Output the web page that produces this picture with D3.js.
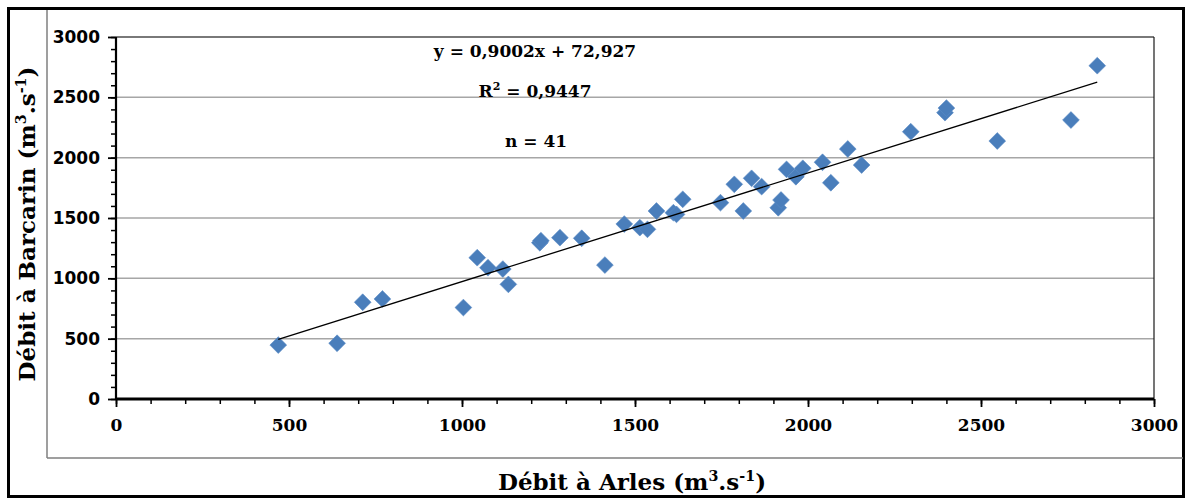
<!DOCTYPE html>
<html>
<head>
<meta charset="utf-8">
<script src="https://cdn.jsdelivr.net/npm/d3@7/dist/d3.min.js"></script>
<style>
  html, body { margin: 0; padding: 0; background: #fff; }
  svg { display: block; }
</style>
</head>
<body>
<svg id="chart" width="1188" height="499"></svg>
<script>
// ---- data ----
const arlesFlow = [469, 639, 713, 770, 1004, 1044, 1075, 1118, 1134, 1225, 1228, 1283, 1346, 1413, 1469, 1514, 1536, 1562, 1611, 1620, 1638, 1747, 1787, 1813, 1837, 1866, 1914, 1922, 1938, 1965, 1985, 2042, 2066, 2115, 2155, 2297, 2396, 2400, 2547, 2760, 2836];
const barcarinFlow = [447, 462, 802, 829, 758, 1171, 1088, 1077, 950, 1295, 1312, 1337, 1332, 1110, 1450, 1420, 1406, 1558, 1544, 1530, 1655, 1627, 1779, 1558, 1829, 1760, 1585, 1649, 1903, 1842, 1912, 1962, 1792, 2072, 1939, 2215, 2373, 2411, 2138, 2312, 2762];
const xTicks = [0, 500, 1000, 1500, 2000, 2500, 3000];
const yTicks = [0, 500, 1000, 1500, 2000, 2500, 3000];
const trendSlope = 0.9002;
const trendIntercept = 72.927;
const equationLabel = "y = 0,9002x + 72,927";
const r2Value = "0,9447";
const nLabel = "n = 41";

// ---- layout ----
const svg = d3.select("#chart");
const plot = { left: 116, right: 1154, top: 37, bottom: 399 };
const x = d3.scaleLinear().domain([0, 3000]).range([plot.left, plot.right]);
const y = d3.scaleLinear().domain([0, 3000]).range([plot.bottom, plot.top]);

const serif = "'DejaVu Serif', serif";
const sans = "'DejaVu Sans', sans-serif";

// outer frame
svg.append("rect").attr("x", 8.5).attr("y", 8.5).attr("width", 1175).attr("height", 488)
  .attr("fill", "#fff").attr("stroke", "#000").attr("stroke-width", 3);
// inner chart-area lines
svg.append("line").attr("x1", 47).attr("x2", 47).attr("y1", 10).attr("y2", 458)
  .attr("stroke", "#7f7f7f").attr("stroke-width", 1.5);
svg.append("line").attr("x1", 47).attr("x2", 1183).attr("y1", 458).attr("y2", 458)
  .attr("stroke", "#7f7f7f").attr("stroke-width", 1.5);

// gridlines
svg.append("g").selectAll("line").data(yTicks.filter(d => d > 0 && d < 3000)).join("line")
  .attr("x1", plot.left).attr("x2", plot.right)
  .attr("y1", d => y(d)).attr("y2", d => y(d))
  .attr("stroke", "#a6a6a6").attr("stroke-width", 1.5);

// plot border top & right
svg.append("line").attr("x1", plot.left).attr("x2", plot.right).attr("y1", y(3000)).attr("y2", y(3000))
  .attr("stroke", "#4d4d4d").attr("stroke-width", 1.5);
svg.append("line").attr("x1", x(3000)).attr("x2", x(3000)).attr("y1", plot.top).attr("y2", plot.bottom)
  .attr("stroke", "#1a1a1a").attr("stroke-width", 1.2);

// minor ticks
const minorVals = d3.range(0, 3001, 100);
const yAxisMinor = d3.axisLeft(y).tickValues(minorVals).tickSize(5).tickFormat("");
const xAxisMinor = d3.axisBottom(x).tickValues(minorVals).tickSize(5).tickFormat("");
const gyMinor = svg.append("g").attr("transform", `translate(${plot.left},0)`).call(yAxisMinor);
const gxMinor = svg.append("g").attr("transform", `translate(0,${plot.bottom})`).call(xAxisMinor);
[gyMinor, gxMinor].forEach(g => {
  g.select(".domain").remove();
  g.selectAll("line").attr("stroke", "#000").attr("stroke-width", 1.5);
});

// y axis
const yAxis = d3.axisLeft(y).tickValues(yTicks).tickSize(8).tickPadding(8).tickFormat(d3.format("d"));
const gy = svg.append("g").attr("transform", `translate(${plot.left},0)`).call(yAxis);
gy.select(".domain").attr("stroke", "#000").attr("stroke-width", 2.2).attr("d", `M0,${plot.top}V${plot.bottom}`);
gy.selectAll("line").attr("stroke", "#000").attr("stroke-width", 1.8);
gy.selectAll("text").attr("font-family", sans).attr("font-weight", "bold").attr("font-size", 17).attr("fill", "#000");

// x axis
const xAxis = d3.axisBottom(x).tickValues(xTicks).tickSize(8).tickPadding(12).tickFormat(d3.format("d"));
const gx = svg.append("g").attr("transform", `translate(0,${plot.bottom})`).call(xAxis);
gx.select(".domain").attr("stroke", "#000").attr("stroke-width", 3).attr("d", `M${plot.left},0H${plot.right}`);
gx.selectAll("line").attr("stroke", "#000").attr("stroke-width", 1.8);
gx.selectAll("text").attr("font-family", serif).attr("font-weight", "bold").attr("font-size", 17).attr("fill", "#000");

// data points (diamonds)
const pts = arlesFlow.map((v, i) => ({ a: v, b: barcarinFlow[i] }));
const r = 8.4;
svg.append("g").selectAll("path").data(pts).join("path")
  .attr("transform", d => `translate(${x(d.a)},${y(d.b)})`)
  .attr("d", `M0,${-r}L${r},0L0,${r}L${-r},0Z`)
  .attr("fill", "#4a7ebb").attr("stroke", "#5b8cc6").attr("stroke-width", 0.6);

// trendline
const xMin = d3.min(arlesFlow), xMax = d3.max(arlesFlow);
svg.append("line")
  .attr("x1", x(xMin)).attr("y1", y(trendSlope * xMin + trendIntercept))
  .attr("x2", x(xMax)).attr("y2", y(trendSlope * xMax + trendIntercept))
  .attr("stroke", "#000").attr("stroke-width", 1.3);

// annotations
const ann = svg.append("g").attr("font-family", serif).attr("font-weight", "bold")
  .attr("font-size", 17).attr("fill", "#000").attr("text-anchor", "middle");
ann.append("text").attr("x", 535).attr("y", 57).text(equationLabel);
const r2 = ann.append("text").attr("x", 535).attr("y", 97);
r2.append("tspan").text("R");
r2.append("tspan").attr("font-size", 11).attr("dy", -7).text("2");
r2.append("tspan").attr("dy", 7).text(" = " + r2Value);
ann.append("text").attr("x", 536).attr("y", 147).text(nLabel);

// axis titles
function unitTitle(sel, base, size) {
  sel.append("tspan").text(base + " (m");
  sel.append("tspan").attr("font-size", size * 0.62).attr("dy", -size * 0.4).text("3");
  sel.append("tspan").attr("dy", size * 0.4).text(".s");
  sel.append("tspan").attr("font-size", size * 0.62).attr("dy", -size * 0.4).text("-1");
  sel.append("tspan").attr("dy", size * 0.4).text(")");
}
const xt = svg.append("text").attr("x", 632).attr("y", 490)
  .attr("font-family", serif).attr("font-weight", "bold").attr("font-size", 23)
  .attr("text-anchor", "middle").attr("fill", "#000");
unitTitle(xt, "Débit à Arles", 23);
const yt = svg.append("text").attr("transform", "translate(35,224) rotate(-90)")
  .attr("font-family", serif).attr("font-weight", "bold").attr("font-size", 23)
  .attr("text-anchor", "middle").attr("fill", "#000");
unitTitle(yt, "Débit à Barcarin", 23);
</script>
</body>
</html>
